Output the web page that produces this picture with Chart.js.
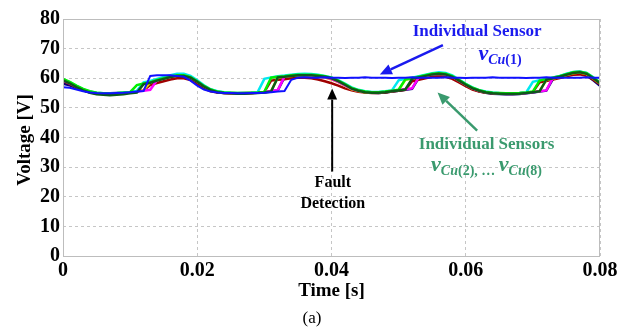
<!DOCTYPE html>
<html><head><meta charset="utf-8">
<script src="https://cdn.jsdelivr.net/npm/chart.js@4/dist/chart.umd.min.js"></script>
<style>html,body{margin:0;padding:0;background:#fff}#wrap{width:625px;height:331px}</style>
</head><body><div id="wrap"><canvas id="c" width="625" height="331"></canvas></div>
<script>
// time axis (s)
const time = [0,0.001,0.002,0.003,0.004,0.005,0.006,0.007,0.008,0.009,
0.010,0.011,0.012,0.013,0.014,0.015,0.016,0.017,0.018,0.019,
0.020,0.021,0.022,0.023,0.024,0.025,0.026,0.027,0.028,0.029,
0.030,0.031,0.032,0.033,0.034,0.035,0.036,0.037,0.038,0.039,
0.040,0.041,0.042,0.043,0.044,0.045,0.046,0.047,0.048,0.049,
0.050,0.051,0.052,0.053,0.054,0.055,0.056,0.057,0.058,0.059,
0.060,0.061,0.062,0.063,0.064,0.065,0.066,0.067,0.068,0.069,
0.070,0.071,0.072,0.073,0.074,0.075,0.076,0.077,0.078,0.079,0.080];

// Individual sensor vCu(1) (faulty after detection)
const vCu1 = [57,56.8,56.2,55.6,55.2,55,54.9,54.9,55,55.1,55.3,55.5,55.7,
60.8,61,61,61,60.8,60.5,59.2,57.5,56.2,55.5,
55.2,55,55,54.9,54.9,55,55,55.1,55.3,55.5,55.7,
59.5,
60.2,60.3,60.2,60.2,60.3,60.2,60.2,60.1,60.2,60.2,60.3,60.2,60.2,60.2,60.1,60.2,
60.2,60.3,60.2,60.2,60.2,60.2,60.3,60.2,60.2,60.1,60.2,60.2,60.2,60.3,60.2,60.2,
60.2,60.2,60.1,60.2,60.2,60.3,60.2,60.2,60.2,60.2,60.2,60.3,60.2,60.2];
const vCu2 = [58.2,57.6,56.7,55.9,55.3,55,54.9,54.9,55,55.1,55.3,55.5,
58.2,58.7,59.3,59.9,60.5,60.8,60.8,60.2,58.8,57.2,56,
55.3,55,54.9,54.8,54.8,54.9,55.1,55.3,55.6,55.9,
60.4,60.7,60.9,61,60.9,60.7,60.4,59.9,59,
57.8,56.5,55.8,55.3,55.1,55,55.2,55.5,55.8,56.1,56.4,
60.1,60.6,61.1,61.3,61.1,60.3,59,57.6,56.4,55.6,
55.1,54.8,54.7,54.6,54.6,54.7,54.9,55.2,55.5,55.8,
59.8,60.3,60.9,61.4,61.6,61,59.3,57.5];
const vCu3 = [59,58,56.9,56,55.3,54.9,54.8,54.8,54.9,55.1,55.3,55.6,55.9,
57.7,58.4,59,59.6,60,60,59.4,58,56.6,55.6,
55.2,55,54.9,54.9,55,55,55.2,55.4,
59.2,59.5,59.7,60,60.2,60.2,60,59.6,59,58.3,57.5,
56.6,55.9,55.4,55.2,55,55,55.2,55.5,55.8,56.1,
59,59.5,60,60.5,60.7,60.5,59.8,58.6,57.3,56.2,55.5,
55.1,54.9,54.8,54.8,54.8,54.9,55.1,55.4,
58.6,59.1,59.6,60.1,60.7,61.2,61.3,60.8,59.5,58];
const vCu4 = [59.4,58.5,57.2,56.2,55.4,55,54.8,54.8,54.9,55.1,55.3,55.6,56,
58.6,59.3,59.9,60.5,60.9,60.9,60.3,58.9,57.3,56.1,
55.4,55.1,55,54.9,54.9,55,55.2,55.4,55.7,
60.3,60.5,60.8,61,61,60.9,60.6,60.2,59.6,58.7,
57.5,56.3,55.7,55.3,55.2,55.2,55.4,55.7,56,
59.5,59.9,60.3,60.8,61.3,61.5,61.3,60.5,59.2,57.8,56.6,55.8,
55.3,55,54.9,54.8,54.8,54.9,55.1,55.4,55.7,
59.4,59.9,60.4,61.1,61.7,61.9,61.4,59.9,58.2];
const vCu5 = [59.2,58.3,57.1,56.1,55.3,54.9,54.7,54.7,54.8,55,55.2,55.5,55.8,56.1,
59.3,59.9,60.5,60.9,60.9,60.3,58.9,57.3,56.1,
55.4,55.1,55,54.9,54.9,55,55.2,55.4,55.7,56,
60.6,60.9,61.1,61.1,61,60.7,60.3,59.7,58.8,
57.6,56.4,55.8,55.4,55.2,55.2,55.4,55.7,56,56.3,56.6,
60.3,60.8,61.3,61.5,61.3,60.5,59.2,57.8,56.6,55.8,
55.3,55,54.8,54.7,54.7,54.8,55,55.3,55.6,55.9,
60.2,60.7,61.4,62,62.2,61.7,60.2,58.5];
const vCu6 = [59.6,58.7,57.4,56.3,55.5,55.1,54.9,54.9,55,55.2,55.4,55.7,
58.6,59.1,59.8,60.4,61,61.5,61.5,60.8,59.3,57.6,56.3,
55.6,55.3,55.1,55,55,55.1,55.3,
59.8,60.3,60.7,60.9,61.2,61.4,61.5,61.4,61.2,60.8,60.3,59.4,
58.2,56.9,56.1,55.6,55.4,55.4,55.6,55.9,
59.3,59.8,60.2,60.7,61.2,61.7,62,61.8,61,59.6,58.1,56.9,56,
55.5,55.2,55,54.9,54.9,55,55.2,
58.8,59.3,59.8,60.3,60.8,61.5,62.1,62.3,61.8,60.3,58.6];
const vCu7 = [59.8,58.8,57.5,56.4,55.6,55.1,54.9,54.8,54.9,55.1,55.3,
57.7,58.2,58.7,59.4,60,60.6,61,61,60.4,59,57.4,56.2,
55.5,55.2,55.1,55,55,55.1,55.2,55.4,
60.2,60.5,60.7,61,61.2,61.2,61.2,61,60.7,60.2,59.2,
58,56.7,56,55.5,55.3,55.3,55.5,55.8,56.1,
59.6,60,60.5,61,61.5,61.7,61.5,60.7,59.4,58,56.8,56,
55.4,55.1,55,54.9,54.9,55,55.2,55.5,
59.2,59.7,60.2,60.7,61.4,62,62.2,61.7,60.2,58.5];
const vCu8 = [59.3,58.3,57,55.9,55.1,54.6,54.4,54.3,54.4,54.6,54.9,55.2,
58,58.5,59.2,59.8,60.4,60.8,60.8,60.2,58.8,57.2,56,
55.3,55,54.9,54.8,54.8,54.9,55,55.2,55.5,
60.3,60.5,60.8,61,61,61,60.8,60.5,60,59,
57.8,56.5,55.8,55.3,55.1,55.1,55.3,55.6,55.9,56.2,
59.8,60.3,60.8,61.3,61.5,61.3,60.5,59.2,57.8,56.6,55.8,
55.2,54.9,54.8,54.7,54.7,54.8,55,55.3,55.6,
59.5,60,60.5,61.2,61.8,62,61.5,60,58.3];

const seriesNames = ['vCu(1)','vCu(2)','vCu(3)','vCu(4)','vCu(5)','vCu(6)','vCu(7)','vCu(8)'];
const seriesValues = [vCu1,vCu2,vCu3,vCu4,vCu5,vCu6,vCu7,vCu8];
const seriesColors = ['#1010ff','#000080','#a00000','#e8dc00','#ff00ff','#00e8f0','#00f000','#0d5a1a'];
const xTickValues = [0,0.02,0.04,0.06,0.08];
const xTickLabels = ['0','0.02','0.04','0.06','0.08'];
const yTickValues = [0,10,20,30,40,50,60,70,80];

const datasets = seriesValues.map((vals,i)=>({
  label: seriesNames[i],
  data: vals.map((v,k)=>({x:time[k], y:v})),
  borderColor: seriesColors[i],
  backgroundColor: seriesColors[i],
  borderWidth: i===0 ? 2 : 2.5,
  pointRadius: 0,
  tension: 0,
  order: i===0 ? 0 : (i===7 ? 1 : 8-i)
}));

function drawArrow(ctx, x1,y1,x2,y2,color,w,head){
  ctx.strokeStyle=color; ctx.fillStyle=color; ctx.lineWidth=w;
  const a=Math.atan2(y2-y1,x2-x1);
  const bx=x2-head*Math.cos(a), by=y2-head*Math.sin(a);
  ctx.beginPath(); ctx.moveTo(x1,y1); ctx.lineTo(bx,by); ctx.stroke();
  ctx.beginPath(); ctx.moveTo(x2,y2);
  ctx.lineTo(bx+head*0.45*Math.sin(a), by-head*0.45*Math.cos(a));
  ctx.lineTo(bx-head*0.45*Math.sin(a), by+head*0.45*Math.cos(a));
  ctx.closePath(); ctx.fill();
}
function drawRich(ctx, parts, cx, y, color){
  let total=0;
  parts.forEach(p=>{ctx.font=p[1]; total+=ctx.measureText(p[0]).width;});
  let x=cx-total/2;
  ctx.fillStyle=color; ctx.textAlign='left'; ctx.textBaseline='alphabetic';
  parts.forEach(p=>{ctx.font=p[1]; ctx.fillText(p[0],x,y+p[2]); x+=ctx.measureText(p[0]).width;});
}

const SERIF='"Liberation Serif","Times New Roman",serif';
const deco = {
  id:'deco',
  afterDraw(chart){
    const {ctx, chartArea:a, scales:{x,y}} = chart;
    ctx.save();
    ctx.strokeStyle='#bdbdbd'; ctx.lineWidth=1;
    ctx.strokeRect(Math.round(a.left)+0.5, Math.round(a.top)+0.5, Math.round(a.right-a.left)-1, Math.round(a.bottom-a.top));
    ctx.fillStyle='#000'; ctx.textAlign='center'; ctx.textBaseline='middle';
    ctx.font='bold 19px '+SERIF;
    ctx.fillText('Time [s]', (a.left+a.right)/2, 291);
    ctx.save(); ctx.translate(25,140); ctx.rotate(-Math.PI/2); ctx.fillText('Voltage [V]',0,0); ctx.restore();
    ctx.font='17px '+SERIF;
    ctx.fillText('(a)', 312, 319);

    // Fault detection
    drawArrow(ctx, x.getPixelForValue(0.0401), y.getPixelForValue(28.5), x.getPixelForValue(0.0401), y.getPixelForValue(56.5), '#000', 2, 11);
    ctx.fillStyle='#000'; ctx.textAlign='center'; ctx.textBaseline='middle';
    ctx.font='bold 16px '+SERIF;
    ctx.fillText('Fault', x.getPixelForValue(0.0402), y.getPixelForValue(24.6));
    ctx.fillText('Detection', x.getPixelForValue(0.0402), y.getPixelForValue(17.6));

    // Individual sensor (blue)
    const blue='#1a1aee';
    ctx.fillStyle=blue; ctx.font='bold 17px '+SERIF;
    ctx.fillText('Individual Sensor', x.getPixelForValue(0.0617), y.getPixelForValue(75.6));
    drawRich(ctx, [['v','italic bold 22px '+SERIF,0],['Cu','italic bold 14px '+SERIF,4],['(1)','bold 14px '+SERIF,4]],
      x.getPixelForValue(0.0651), y.getPixelForValue(66.2), blue);
    drawArrow(ctx, x.getPixelForValue(0.0566), y.getPixelForValue(71.2), x.getPixelForValue(0.0472), y.getPixelForValue(61.3), blue, 2.5, 12);

    // Individual sensors (green)
    const green='#3a9a6e';
    ctx.fillStyle=green; ctx.textAlign='center'; ctx.textBaseline='middle'; ctx.font='bold 17px '+SERIF;
    ctx.fillText('Individual Sensors', x.getPixelForValue(0.0631), y.getPixelForValue(37.5));
    drawRich(ctx, [['v','italic bold 22px '+SERIF,0],['Cu','italic bold 14px '+SERIF,4],['(2), \u2026 ','bold 14px '+SERIF,4],
      ['v','italic bold 22px '+SERIF,0],['Cu','italic bold 14px '+SERIF,4],['(8)','bold 14px '+SERIF,4]],
      x.getPixelForValue(0.0631), y.getPixelForValue(28.6), green);
    drawArrow(ctx, x.getPixelForValue(0.0617), y.getPixelForValue(42.3), x.getPixelForValue(0.0558), y.getPixelForValue(55.2), green, 2.5, 12);
    ctx.restore();
  }
};

new Chart(document.getElementById('c'), {
  type:'line',
  data:{datasets},
  options:{
    responsive:false, animation:false, events:[],
    layout:{padding:{top:19,right:25,left:0,bottom:0}},
    plugins:{legend:{display:false}, tooltip:{enabled:false}},
    scales:{
      x:{type:'linear', min:0, max:0.08,
        afterBuildTicks(s){ s.ticks = xTickValues.map(v=>({value:v})); },
        afterFit(s){ s.height = 75; },
        ticks:{ callback:(v)=>{const i=xTickValues.findIndex(t=>Math.abs(t-v)<1e-9); return i>=0?xTickLabels[i]:'';},
          font:{family:SERIF, size:20, weight:'bold'}, color:'#000', padding:3, maxRotation:0, autoSkip:false},
        grid:{color:'#c6c6c6', drawTicks:false, tickLength:0},
        border:{display:false, dash:[3,3]}
      },
      y:{type:'linear', min:0, max:80,
        afterBuildTicks(s){ s.ticks = yTickValues.map(v=>({value:v})); },
        afterFit(s){ s.width = 63; },
        ticks:{font:{family:SERIF, size:20, weight:'bold'}, color:'#000', padding:3},
        grid:{color:'#c6c6c6', drawTicks:false, tickLength:0},
        border:{display:false, dash:[3,3]}
      }
    }
  },
  plugins:[deco]
});
</script></body></html>
